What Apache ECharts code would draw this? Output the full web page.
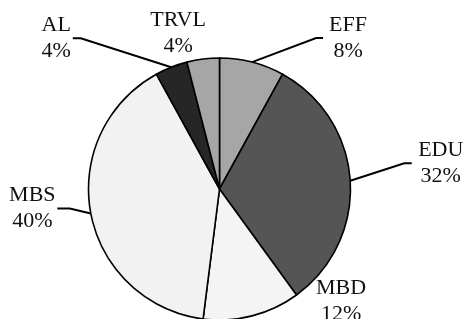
<!DOCTYPE html>
<html><head><meta charset="utf-8">
<script src="https://cdn.jsdelivr.net/npm/echarts@6/dist/echarts.min.js"></script>
<style>html,body{margin:0;padding:0;background:#fff}#c{width:466px;height:319px}</style>
</head><body><div id="c"></div>
<script>
const categories = ['EFF', 'EDU', 'MBD', 'MBS', 'AL', 'TRVL'];
const shares = [8, 32, 12, 40, 4, 4];
const sliceColors = ['#a6a6a6', '#555555', '#f4f4f4', '#f2f2f2', '#262626', '#a6a6a6'];
// label placement relative to the rim anchor point: [dx, dy, lineEndDx, lineBendDx] (null = no leader line)
const labelPlace = {
  EFF: [96, -24, 71, 64],
  EDU: [90.5, -17.5, 61.5, 54],
  MBD: [89, -14.5, null, null],
  MBS: [-58.5, -5, -33.5, -21],
  AL: [-115, -29, -98.5, -90.5],
  TRVL: [-25, -26, null, null]
};

const chart = echarts.init(document.getElementById('c'), null, { renderer: 'canvas' });
chart.setOption({
  animation: false,
  backgroundColor: '#fff',
  series: [{
    type: 'pie',
    center: [219.5, 189],
    radius: 131,
    startAngle: 90,
    clockwise: true,
    avoidLabelOverlap: false,
    emphasis: { disabled: true },
    itemStyle: { borderColor: '#000', borderWidth: 1.6 },
    label: {
      show: true,
      position: 'outside',
      formatter: '{b}\n{c}%',
      fontFamily: 'Liberation Serif',
      fontSize: 22,
      lineHeight: 26,
      color: '#111',
      overflow: 'none'
    },
    labelLine: {
      show: true,
      length: 10,
      length2: 8,
      lineStyle: { color: '#000', width: 2 }
    },
    labelLayout: function (p) {
      const pl = labelPlace[categories[p.dataIndex]];
      const a = p.labelLinePoints ? p.labelLinePoints[0] : null;
      if (!a || !pl) return {};
      const x = a[0] + pl[0], y = a[1] + pl[1];
      const out = { x: x, y: y, align: 'center', verticalAlign: 'middle' };
      if (pl[2] != null) {
        out.labelLinePoints = [[a[0], a[1]], [a[0] + pl[3], y], [a[0] + pl[2], y]];
      } else {
        out.labelLinePoints = [[a[0], a[1]], [a[0], a[1]], [a[0], a[1]]];
      }
      return out;
    },
    data: categories.map((c, i) => ({
      name: c,
      value: shares[i],
      itemStyle: { color: sliceColors[i] }
    }))
  }]
});
</script>
</body></html>
